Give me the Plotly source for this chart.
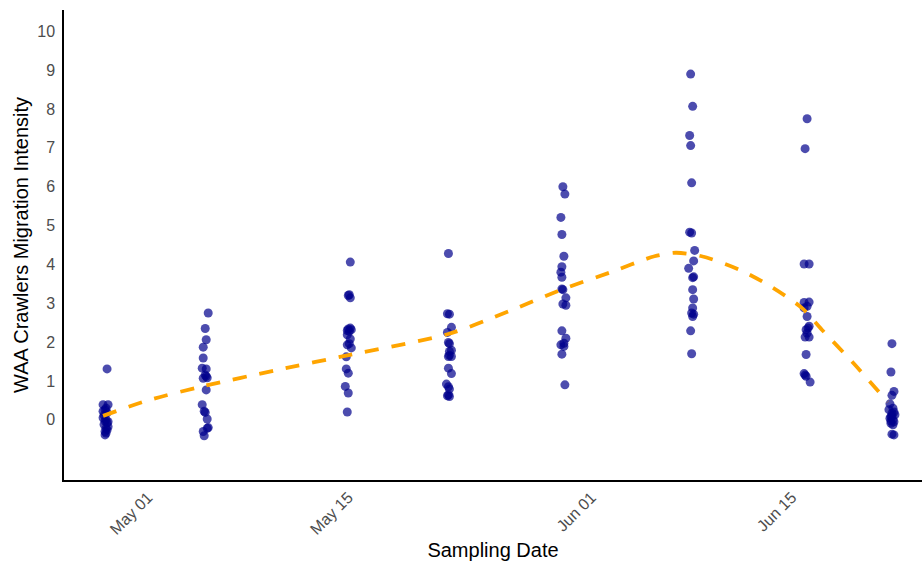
import pandas as pd
import plotly.graph_objects as go

# Sampling dates and the jittered crawler migration scores recorded on each
sample_dates = ["2023-04-28", "2023-05-05", "2023-05-15", "2023-05-22",
                "2023-05-30", "2023-06-08", "2023-06-16", "2023-06-22"]

intensity = [
    [1.31, 0.39, 0.39, 0.30, 0.26, 0.18, 0.12, 0.05, 0.0, -0.03, -0.08, -0.12, -0.18, -0.22, -0.26, -0.30, -0.34, -0.39, 0.22, -0.05],
    [2.75, 2.35, 2.06, 1.87, 1.59, 1.33, 1.31, 1.12, 1.08, 1.07, 0.77, 0.39, 0.19, 0.02, -0.20, -0.22, -0.30, -0.41, 1.15, 0.22],
    [4.06, 3.20, 3.14, 3.22, 2.34, 2.36, 2.32, 2.19, 2.28, 2.08, 1.93, 1.96, 1.85, 1.62, 1.31, 1.20, 0.86, 0.69, 0.20, 2.30],
    [4.28, 2.73, 2.72, 2.38, 2.25, 1.96, 1.99, 1.79, 1.63, 1.63, 1.66, 1.33, 1.19, 0.92, 0.85, 0.79, 0.62, 0.60, 0.64, 1.76],
    [6.00, 5.81, 5.21, 4.77, 4.21, 3.94, 3.80, 3.67, 3.35, 3.37, 3.14, 2.98, 2.95, 2.29, 2.10, 1.93, 1.89, 1.97, 1.69, 0.90],
    [8.90, 8.07, 7.32, 7.06, 6.10, 4.83, 4.81, 4.36, 4.09, 3.90, 3.68, 3.66, 3.35, 3.11, 2.88, 2.75, 2.72, 2.66, 2.29, 1.70],
    [7.75, 6.98, 4.01, 4.01, 3.02, 3.03, 2.92, 2.88, 2.66, 2.41, 2.36, 2.32, 2.23, 2.13, 2.13, 1.68, 1.19, 1.12, 1.15, 0.97],
    [1.96, 1.23, 0.73, 0.63, 0.41, 0.30, 0.26, 0.17, 0.13, 0.08, 0.04, 0.0, -0.03, -0.09, -0.13, 0.20, 0.10, -0.05, -0.37, -0.39],
]

# Horizontal jitter of each point, in days
jitter_days = [
    [0.14, -0.14, 0.21, 0.07, 0.0, 0.14, -0.07, -0.14, 0.07, 0.0, 0.14, -0.07, 0.21, 0.07, 0.14, 0.0, 0.07, 0.0, -0.14, 0.21],
    [0.21, 0.0, 0.07, -0.14, -0.14, -0.21, 0.07, 0.07, 0.14, -0.14, 0.07, -0.21, 0.0, 0.14, 0.21, 0.14, -0.14, -0.07, 0.0, -0.07],
    [0.14, 0.0, 0.14, 0.07, 0.0, 0.14, 0.21, -0.07, 0.07, 0.14, -0.07, 0.07, 0.21, -0.14, -0.14, 0.0, -0.21, 0.0, -0.07, -0.07],
    [0.0, -0.07, 0.07, 0.21, -0.07, 0.07, 0.0, 0.21, 0.0, 0.21, 0.07, 0.0, 0.21, -0.14, 0.0, 0.07, -0.07, 0.07, 0.0, 0.07],
    [0.0, 0.14, -0.14, -0.07, 0.07, -0.07, -0.14, -0.07, 0.0, -0.07, 0.21, 0.0, 0.21, -0.07, 0.21, -0.14, 0.07, 0.07, -0.07, 0.14],
    [-0.07, 0.07, -0.14, -0.07, 0.0, -0.14, 0.0, 0.21, 0.14, -0.21, 0.14, 0.07, 0.07, 0.14, 0.07, 0.0, 0.14, 0.07, -0.07, 0.0],
    [0.07, -0.07, -0.14, 0.21, -0.14, 0.21, 0.07, -0.14, 0.07, 0.21, 0.14, 0.0, 0.07, -0.07, 0.21, 0.0, -0.14, 0.0, -0.07, 0.28],
    [0.0, -0.07, 0.14, 0.0, -0.14, 0.07, -0.21, 0.0, 0.21, -0.07, -0.14, 0.07, -0.07, -0.07, 0.07, 0.14, 0.0, 0.14, 0.0, 0.14],
]

# Loess trend, days after the first sampling date
smooth_day = [-0.14, 3.0, 6.8, 12.0, 17.2, 24.0, 28.2, 31.9, 35.5, 38.4, 39.9,
              41.7, 44.3, 46.5, 48.7, 50.1, 52.3, 54.7]
smooth_value = [0.10, 0.50, 0.86, 1.28, 1.68, 2.21, 2.79, 3.35, 3.82, 4.21, 4.30,
                4.21, 3.87, 3.44, 2.88, 2.32, 1.46, 0.46]

tick_dates = ["2023-05-01", "2023-05-15", "2023-06-01", "2023-06-15"]
tick_labels = ["May 01", "May 15", "Jun 01", "Jun 15"]
y_ticks = list(range(0, 11))

xs, ys = [], []
for d, vals, jit in zip(sample_dates, intensity, jitter_days):
    base = pd.Timestamp(d)
    for v, j in zip(vals, jit):
        xs.append(base + pd.Timedelta(days=j))
        ys.append(v)

origin = pd.Timestamp(sample_dates[0])
smooth_x = [origin + pd.Timedelta(days=t) for t in smooth_day]

fig = go.Figure()
fig.add_trace(go.Scatter(
    x=xs, y=ys, mode="markers",
    marker=dict(color="rgba(0,0,139,0.7)", size=9, line=dict(width=0)),
    showlegend=False, hoverinfo="x+y",
))
fig.add_trace(go.Scatter(
    x=smooth_x, y=smooth_value, mode="lines",
    line=dict(color="#FFA500", width=3.8, dash="14px,13px", shape="spline", smoothing=0.8),
    showlegend=False,
))

font_family = "Liberation Sans, Arial, sans-serif"
fig.update_layout(
    width=922, height=561,
    margin=dict(l=64, r=0, t=10, b=81),
    plot_bgcolor="white", paper_bgcolor="white",
    font=dict(family=font_family, color="black"),
    xaxis=dict(
        type="date",
        range=[origin - pd.Timedelta(days=2.87), origin + pd.Timedelta(days=57.1)],
        tickvals=tick_dates, ticktext=tick_labels, tickangle=-45,
        tickfont=dict(size=16, color="#4d4d4d"),
        showgrid=False, zeroline=False, ticks="",
        showline=True, linecolor="black", linewidth=1.5,
        title=dict(text="Sampling Date", font=dict(size=20, color="black"), standoff=6),
    ),
    yaxis=dict(
        range=[-1.55, 10.55],
        tickvals=y_ticks,
        tickfont=dict(size=16, color="#4d4d4d"),
        showgrid=False, zeroline=False, ticks="",
        showline=True, linecolor="black", linewidth=1.5,
        ticklabelstandoff=4,
        title=dict(text="WAA Crawlers Migration Intensity", font=dict(size=20, color="black"), standoff=3),
    ),
)

fig.write_html("out.html")
